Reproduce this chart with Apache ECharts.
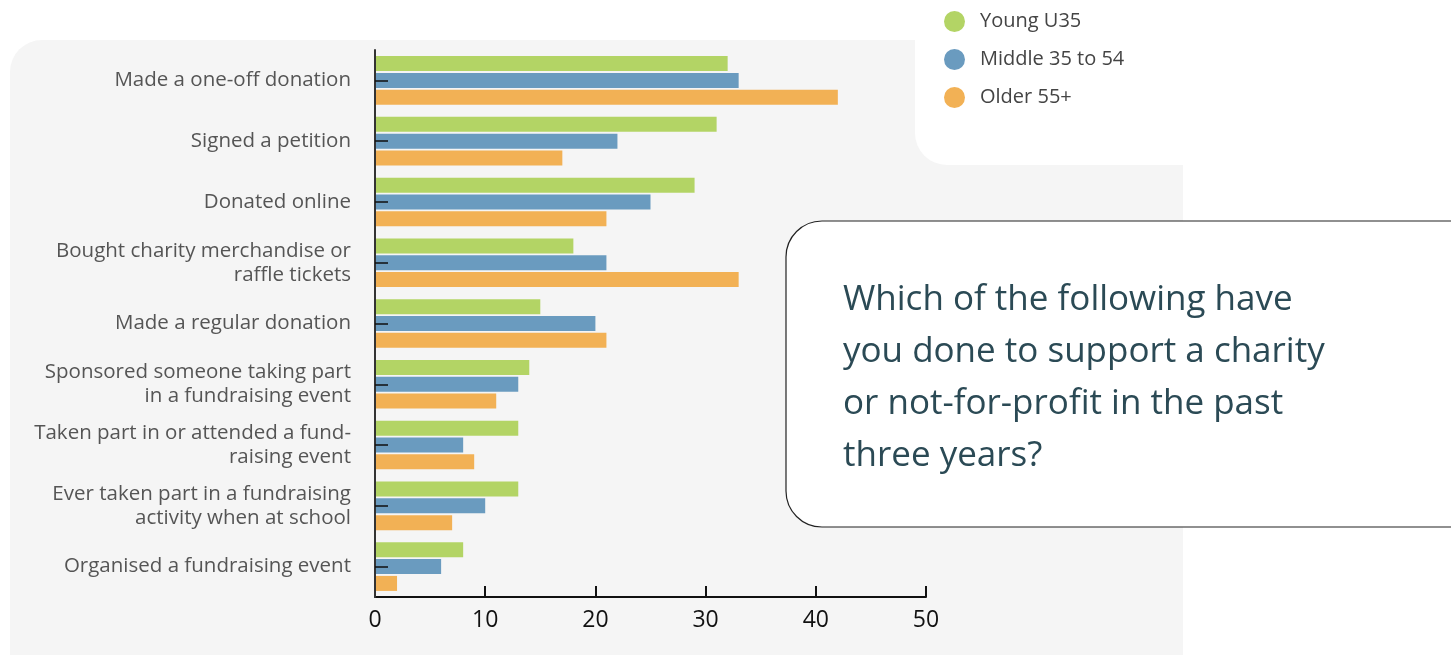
<!DOCTYPE html>
<html><head><meta charset="utf-8">
<script src="https://cdn.jsdelivr.net/npm/echarts@6/dist/echarts.min.js"></script>
<style>html,body{margin:0;padding:0;background:#fff}#c{width:1451px;height:655px}</style>
</head><body><div id="c"></div>
<script>
const categories = [
  "Made a one-off donation",
  "Signed a petition",
  "Donated online",
  "Bought charity merchandise or\nraffle tickets",
  "Made a regular donation",
  "Sponsored someone taking part\nin a fundraising event",
  "Taken part in or attended a fund-\nraising event",
  "Ever taken part in a fundraising\nactivity when at school",
  "Organised a fundraising event"
];
const seriesNames = ["Young U35", "Middle 35 to 54", "Older 55+"];
const young = [32, 31, 29, 18, 15, 14, 13, 13, 8];
const middle = [33, 22, 25, 21, 20, 13, 8, 10, 6];
const older = [42, 17, 21, 33, 21, 11, 9, 7, 2];
const colors = ["#b3d465", "#6a9bbf", "#f2b155"];
const question = "Which of the following have\nyou done to support a charity\nor not-for-profit in the past\nthree years?";

const chart = echarts.init(document.getElementById('c'));
const mk = (name, data, i) => ({
  name, type: 'bar', data, barWidth: 15, barGap: '12%', barCategoryGap: '20%',
  itemStyle: { color: colors[i] }, z: 2
});
chart.setOption({
  animation: false,
  backgroundColor: '#ffffff',
  graphic: [
    { type: 'rect', z: -10, shape: { x: 10, y: 40, width: 1173, height: 660, r: 32 }, style: { fill: '#f5f5f5' } },
    { type: 'rect', z: -9, shape: { x: 915, y: -60, width: 268, height: 225, r: [0, 0, 0, 32] }, style: { fill: '#ffffff' } },
    { type: 'rect', z: 20, shape: { x: 786, y: 221, width: 700, height: 306, r: 36 }, style: { fill: '#ffffff', stroke: '#222', lineWidth: 1.2 } },
    { type: 'text', z: 21, x: 843, y: 274, style: { text: question, fill: '#2b4a55', font: '35px "Open Sans"', lineHeight: 52 } }
  ],
  legend: {
    orient: 'vertical', left: 939, top: 6, icon: 'circle', itemWidth: 21, itemHeight: 21, itemGap: 17,
    textStyle: { fontFamily: 'Open Sans', fontSize: 20, color: '#444', padding: [0, 0, 0, 10] },
    data: seriesNames
  },
  grid: { left: 375, right: 525, top: 50, bottom: 58, containLabel: false },
  xAxis: {
    type: 'value', min: 0, max: 50, interval: 10,
    axisLine: { show: true, lineStyle: { color: '#111', width: 2 } },
    axisTick: { show: true, inside: true, length: 11, lineStyle: { color: '#111', width: 2 } },
    axisLabel: { color: '#111', fontSize: 23, fontFamily: 'Open Sans', margin: 12 },
    splitLine: { show: false }
  },
  yAxis: {
    type: 'category', data: categories, inverse: true, z: 10,
    axisLine: { show: true, lineStyle: { color: '#333', width: 2 } },
    axisTick: { show: true, inside: true, alignWithLabel: true, length: 13, lineStyle: { color: '#111', width: 1.5 } },
    axisLabel: { color: '#555', fontSize: 20.5, fontFamily: 'Open Sans', margin: 24, align: 'right', lineHeight: 24 }
  },
  series: [mk(seriesNames[0], young, 0), mk(seriesNames[1], middle, 1), mk(seriesNames[2], older, 2)]
});
</script></body></html>
